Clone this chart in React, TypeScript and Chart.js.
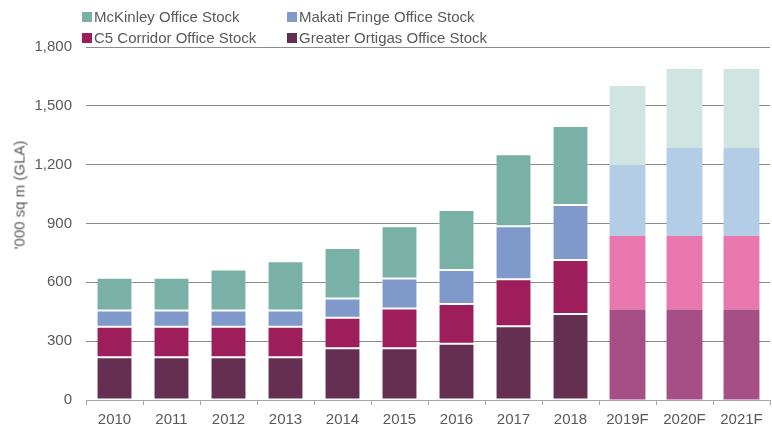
import React, { useEffect, useRef } from "react";
import { Chart, registerables } from "chart.js";

Chart.register(...registerables);

const categories = ["2010", "2011", "2012", "2013", "2014", "2015", "2016", "2017", "2018", "2019F", "2020F", "2021F"];
const ortigas = [218, 218, 218, 218, 264, 264, 287, 376, 439, 461, 461, 461];
const c5 = [156, 156, 156, 156, 156, 202, 203, 240, 275, 375, 375, 375];
const makati = [83, 83, 83, 83, 97, 153, 173, 270, 280, 362, 449, 449];
const mckinley = [167, 167, 209, 250, 258, 267, 306, 367, 403, 403, 403, 403];
const yTicks = [0, 300, 600, 900, 1200, 1500, 1800];

const FONT = "'Liberation Sans', Arial, Helvetica, sans-serif";
const TEXT = "#595959";

const forecastStart = 9;
const colorsFor = (hist: string, fc: string) => categories.map((_, i) => (i >= forecastStart ? fc : hist));
const bordersFor = () => categories.map((_, i) => (i >= forecastStart ? 0 : 1));

const legendItems = [
  { label: "McKinley Office Stock", color: "#7AB1A7" },
  { label: "Makati Fringe Office Stock", color: "#7F99CB" },
  { label: "C5 Corridor Office Stock", color: "#9E1D5B" },
  { label: "Greater Ortigas Office Stock", color: "#652F51" },
];

export default function App() {
  const ref = useRef<HTMLCanvasElement | null>(null);
  useEffect(() => {
    if (!ref.current) return;
    const mk = (label: string, data: number[], hist: string, fc: string) => ({
      label,
      data,
      backgroundColor: colorsFor(hist, fc),
      borderColor: "rgba(255,255,255,0.28)",
      borderWidth: bordersFor(),
      borderSkipped: false as const,
      categoryPercentage: 1,
      barPercentage: 0.63,
    });
    const chart = new Chart(ref.current, {
      type: "bar",
      data: {
        labels: categories,
        datasets: [
          mk("Greater Ortigas Office Stock", ortigas, "#652F51", "#A64F87"),
          mk("C5 Corridor Office Stock", c5, "#9E1D5B", "#E877AE"),
          mk("Makati Fringe Office Stock", makati, "#7F99CB", "#B3CDE7"),
          mk("McKinley Office Stock", mckinley, "#7AB1A7", "#D0E4E1"),
        ],
      },
      options: {
        responsive: false,
        animation: false,
        devicePixelRatio: 1,
        layout: { padding: { top: 47, right: 2, left: 0, bottom: 0 } },
        plugins: { legend: { display: false }, tooltip: { enabled: false } },
        scales: {
          x: {
            stacked: true,
            grid: {
              offset: true,
              drawOnChartArea: false,
              drawTicks: true,
              tickLength: 5,
              color: "#a6a6a6",
            },
            border: { display: true, color: "#a6a6a6", width: 1 },
            ticks: { font: { family: FONT, size: 15 }, color: TEXT, padding: 6, maxRotation: 0 },
            afterFit: (s: any) => {
              s.height = 28;
            },
          },
          y: {
            stacked: true,
            min: 0,
            max: 1800,
            afterBuildTicks: (s: any) => {
              s.ticks = yTicks.map((v) => ({ value: v }));
            },
            grid: { color: "#8c8c8c", lineWidth: 1, drawTicks: false },
            border: { display: false },
            ticks: {
              font: { family: FONT, size: 15 },
              color: TEXT,
              padding: 14,
              callback: (v: any) => Number(v).toLocaleString("en-US"),
            },
            afterFit: (s: any) => {
              s.width = 86;
            },
          },
        },
      },
    });
    return () => chart.destroy();
  }, []);

  return (
    <div style={{ position: "absolute", left: 0, top: 0, width: 772, height: 428, background: "#fff", fontFamily: FONT }}>
      <canvas ref={ref} width={772} height={428} style={{ position: "absolute", left: 0, top: 0, width: 772, height: 428 }} />
      {legendItems.map((it, i) => (
        <div
          key={it.label}
          style={{
            position: "absolute",
            left: i % 2 === 0 ? 82 : 287,
            top: 6 + Math.floor(i / 2) * 21,
            height: 20,
            display: "flex",
            alignItems: "center",
            fontSize: 15,
            fontWeight: 400,
            color: TEXT,
            whiteSpace: "nowrap",
          }}
        >
          <span style={{ display: "inline-block", width: 10, height: 10, background: it.color, marginRight: 2, marginTop: 1 }} />
          <span>{it.label}</span>
        </div>
      ))}
      <div
        style={{
          position: "absolute",
          left: 19,
          top: 195,
          transform: "translate(-50%, -50%) rotate(-90deg)",
          fontSize: 15,
          fontWeight: 400,
          color: TEXT,
          whiteSpace: "nowrap",
        }}
      >
        '000 sq m (GLA)
      </div>
    </div>
  );
}
